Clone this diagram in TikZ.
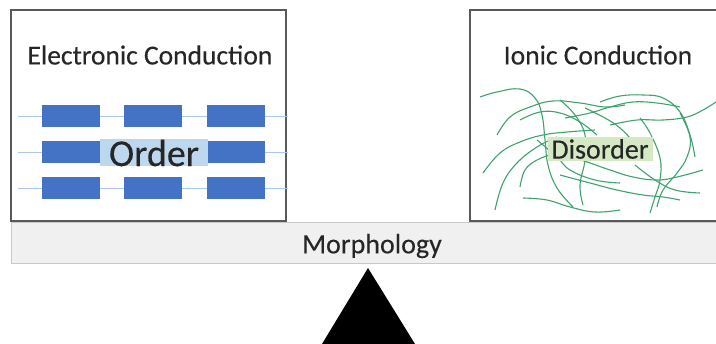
\documentclass[tikz,border=0pt]{standalone}
\usepackage{fontspec}
\setmainfont{Carlito}
\newfontfamily\headfont[FakeBold=0.25]{Carlito}
\definecolor{boxline}{HTML}{595959}
\definecolor{blk}{HTML}{4472C4}
\definecolor{blkline}{HTML}{A9C8EA}
\definecolor{orderbg}{HTML}{BDD7EE}
\definecolor{disbg}{HTML}{D5E8C4}
\definecolor{fib}{HTML}{3FA36E}
\definecolor{barfill}{HTML}{F0F0F0}
\definecolor{barline}{HTML}{C8C8C8}
\definecolor{txt}{HTML}{262626}
\tikzset{
  panel/.style={draw=boxline, line width=1.3pt, fill=white},
  blkbox/.style={fill=blk, draw=none, minimum width=58pt, minimum height=22pt, inner sep=0pt},
  chain/.style={draw=blkline, line width=0.9pt},
  fibre/.style={draw=fib, line width=1.1pt},
  head/.style={text=txt, font=\headfont\fontsize{27.5}{30}\selectfont, inner sep=0pt},
}
\begin{document}
\begin{tikzpicture}[x=1pt,y=-1pt]
\useasboundingbox (0,0) rectangle (716,344);
% panels
\draw[panel] (11,10) rectangle (286,221);
\draw[panel] (470,10) rectangle (730,221);
% bar
\draw[fill=barfill, draw=barline, line width=0.8pt] (11,222) rectangle (730,263);
\node[text=txt, font=\headfont\fontsize{28}{30}\selectfont, inner sep=0pt] (morph) at (372,246) {Morphology};
% fulcrum
\coordinate (apex) at (368,268);
\fill[black] (apex) -- (415,344) -- (322,344) -- cycle;
% headings
\node[head] (ec) at (150,55) {Electronic Conduction};
\node[head] (ic) at (598,55) {Ionic Conduction};
% chains
\foreach \r/\y in {1/116,2/152,3/188}{
  \coordinate (l\r) at (18,\y);
  \coordinate (r\r) at (288,\y);
  \draw[chain] (l\r) -- (r\r);
  \foreach \c/\x in {1/71,2/153,3/236}{
    \node[blkbox] (b\r\c) at (\x,\y) {};
  }
}
\node[fill=orderbg, minimum width=108pt, minimum height=27pt, inner sep=0pt, text=txt, font=\headfont\fontsize{38}{40}\selectfont] (order) at (154,153) {Order};
% fibres
\draw[fibre] plot[smooth, tension=0.7] coordinates {(480,97) (497,92) (520,89) (535,98) (542,115) (545,140) (548,165) (557,188) (573,207)};
\draw[fibre] plot[smooth, tension=0.7] coordinates {(497,135) (510,117) (530,107) (553,101) (580,103) (605,107) (625,105)};
\draw[fibre] plot[smooth, tension=0.7] coordinates {(483,173) (500,153) (520,142) (543,135) (567,132) (595,130)};
\draw[fibre] plot[smooth, tension=0.7] coordinates {(495,210) (503,183) (517,163) (537,147) (557,137)};
\draw[fibre] plot[smooth, tension=0.7] coordinates {(520,187) (525,170) (537,160) (550,155)};
\draw[fibre] plot[smooth, tension=0.7] coordinates {(523,198) (547,200) (570,207) (595,212) (620,210)};
\draw[fibre] plot[smooth, tension=0.7] coordinates {(537,140) (557,157) (570,170) (595,180) (620,183)};
\draw[fibre] plot[smooth, tension=0.7] coordinates {(600,102) (620,96) (643,95) (663,98) (680,112) (690,135) (695,157)};
\draw[fibre] plot[smooth, tension=0.7] coordinates {(565,118) (590,113) (610,107) (633,102) (657,103) (680,107)};
\draw[fibre] plot[smooth, tension=0.7] coordinates {(610,125) (637,120) (663,120) (687,117) (703,110) (716,102)};
\draw[fibre] plot[smooth, tension=0.7] coordinates {(680,113) (690,137) (687,157) (677,173) (663,190) (657,207)};
\draw[fibre] plot[smooth, tension=0.7] coordinates {(560,175) (590,183) (617,190) (643,195) (663,197) (680,200)};
\draw[fibre] plot[smooth, tension=0.7] coordinates {(575,158) (590,163) (610,170) (633,177) (657,180) (677,177) (703,170)};
\draw[fibre] plot[smooth, tension=0.7] coordinates {(640,118) (650,133) (660,158) (660,180) (655,197) (650,213)};
\draw[fibre] plot[smooth, tension=0.7] coordinates {(585,108) (605,118) (620,128) (633,142) (640,155)};
\draw[fibre] plot[smooth, tension=0.7] coordinates {(635,165) (655,180) (675,190) (700,193)};
\draw[fibre] plot[smooth, tension=0.7] coordinates {(560,100) (575,115) (585,135) (585,160) (580,185) (583,205)};
\draw[fibre] plot[smooth, tension=0.7] coordinates {(520,120) (540,112) (560,113) (580,122) (597,135)};
\node[fill=disbg, minimum width=105pt, minimum height=24pt, inner sep=0pt, text=txt, font=\headfont\fontsize{28}{32}\selectfont] (dis) at (600,149) {Disorder};
\end{tikzpicture}
\end{document}
